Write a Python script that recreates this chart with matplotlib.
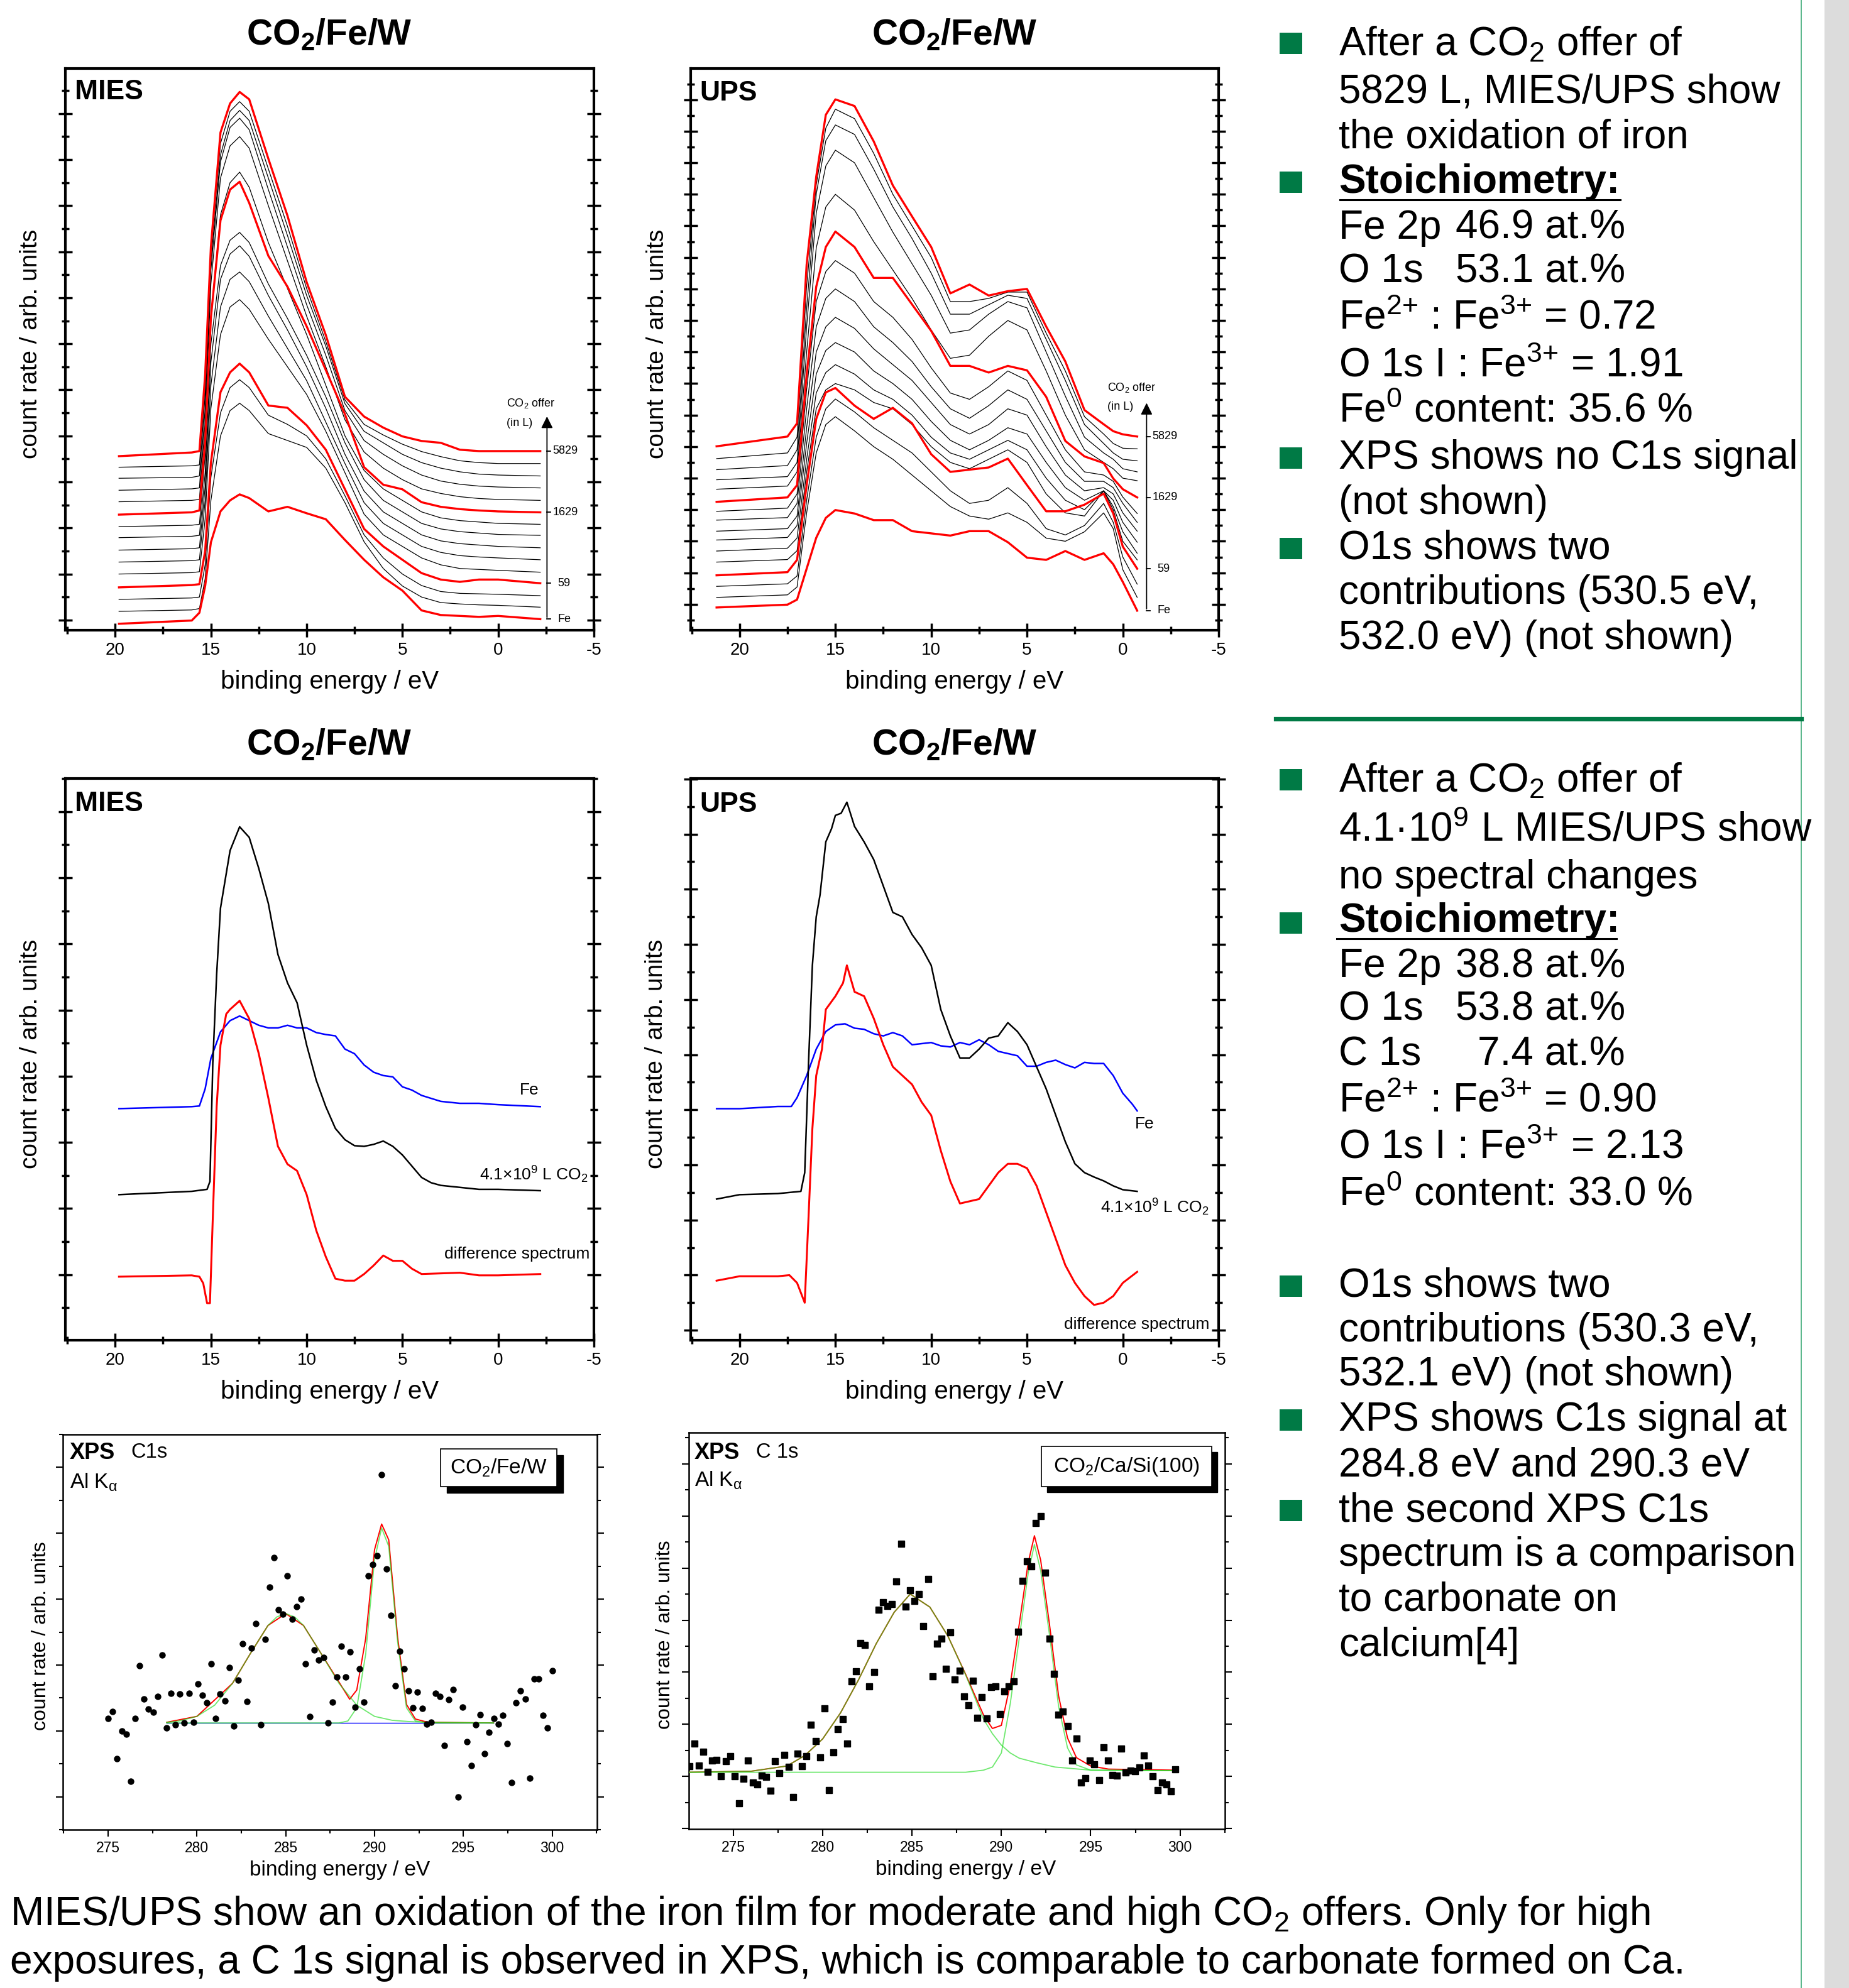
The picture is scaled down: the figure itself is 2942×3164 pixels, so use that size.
import matplotlib
matplotlib.use('Agg')
import matplotlib.pyplot as plt
from matplotlib.patches import Rectangle
from matplotlib.lines import Line2D
from matplotlib.ticker import MultipleLocator

plt.rcParams['font.family'] = ['Liberation Sans', 'DejaVu Sans']
plt.rcParams['mathtext.default'] = 'regular'
plt.rcParams['axes.unicode_minus'] = False

# MIES series (CO2 offer from Fe film up to 5829 L), common energy grid
MIES_X = [19.8, 16.0, 15.6, 15.3, 15.0, 14.5, 14.0, 13.5, 13.0, 12.0, 11.0, 10.0,
          9.0, 8.0, 7.0, 6.0, 5.0, 4.0, 3.0, 2.0, 1.0, 0.0, -2.2]
MIES_CURVES = [
    [-0.08, -0.01, 0.16, 0.74, 1.69, 2.36, 2.60, 2.73, 2.65, 2.36, 2.46, 2.32, 2.19, 1.74, 1.31, 0.93, 0.64, 0.21, 0.11, 0.09, 0.07, 0.09, 0.02],
    [0.19, 0.22, 0.25, 0.9, 2.6, 4.0, 4.55, 4.71, 4.55, 4.05, 3.9, 3.75, 3.3, 2.55, 1.7, 1.12, 0.74, 0.5, 0.38, 0.35, 0.33, 0.32, 0.28],
    [0.45, 0.48, 0.5, 1.2, 3.1, 4.5, 5.05, 5.22, 5.05, 4.45, 4.25, 4.0, 3.5, 2.7, 1.85, 1.35, 1.0, 0.75, 0.62, 0.58, 0.57, 0.56, 0.53],
    [0.71, 0.76, 0.78, 1.50, 3.42, 4.95, 5.38, 5.57, 5.38, 4.66, 4.61, 4.23, 3.70, 2.84, 1.98, 1.60, 1.31, 1.02, 0.88, 0.83, 0.88, 0.88, 0.80],
    [1.00, 1.03, 1.05, 2.2, 4.6, 6.2, 6.8, 6.96, 6.75, 6.1, 5.5, 4.9, 4.1, 3.2, 2.3, 1.85, 1.6, 1.35, 1.2, 1.12, 1.1, 1.08, 1.04],
    [1.26, 1.29, 1.31, 2.6, 5.1, 6.8, 7.4, 7.56, 7.35, 6.6, 5.9, 5.2, 4.3, 3.4, 2.55, 2.1, 1.85, 1.6, 1.47, 1.4, 1.37, 1.35, 1.31],
    [1.52, 1.55, 1.57, 2.9, 5.6, 7.4, 7.95, 8.13, 7.9, 7.05, 6.3, 5.5, 4.6, 3.6, 2.8, 2.35, 2.1, 1.85, 1.72, 1.66, 1.63, 1.6, 1.57],
    [1.79, 1.82, 1.84, 3.2, 6.0, 7.7, 8.25, 8.42, 8.2, 7.3, 6.55, 5.75, 4.85, 3.85, 3.05, 2.6, 2.35, 2.1, 1.98, 1.92, 1.89, 1.86, 1.84],
    [2.03, 2.06, 2.08, 3.6, 6.6, 8.8, 9.5, 9.73, 9.4, 8.2, 7.2, 6.2, 5.1, 4.0, 3.25, 2.85, 2.6, 2.35, 2.22, 2.16, 2.13, 2.1, 2.08],
    [2.29, 2.34, 2.38, 3.89, 6.57, 8.68, 9.35, 9.52, 9.06, 7.91, 7.24, 6.38, 5.43, 4.47, 3.32, 2.94, 2.84, 2.56, 2.46, 2.41, 2.38, 2.36, 2.34],
    [2.57, 2.6, 2.62, 4.3, 7.3, 9.6, 10.3, 10.5, 10.25, 9.0, 7.8, 6.6, 5.5, 4.35, 3.65, 3.3, 3.05, 2.85, 2.75, 2.68, 2.64, 2.62, 2.60],
    [2.82, 2.85, 2.87, 4.6, 7.6, 9.95, 10.7, 10.9, 10.65, 9.35, 8.1, 6.85, 5.75, 4.55, 3.9, 3.6, 3.35, 3.15, 3.02, 2.95, 2.91, 2.89, 2.87],
    [3.08, 3.1, 3.13, 4.9, 7.8, 10.1, 10.85, 11.07, 10.85, 9.6, 8.35, 7.05, 5.95, 4.7, 4.1, 3.85, 3.6, 3.42, 3.3, 3.22, 3.17, 3.15, 3.13],
    [3.32, 3.35, 3.37, 5.1, 8.0, 10.35, 11.05, 11.26, 11.05, 9.8, 8.55, 7.2, 6.05, 4.78, 4.25, 4.02, 3.82, 3.66, 3.55, 3.46, 3.42, 3.40, 3.40],
    [3.56, 3.64, 3.67, 5.33, 8.11, 10.59, 11.22, 11.47, 11.31, 10.02, 8.78, 7.34, 6.19, 4.85, 4.42, 4.18, 3.99, 3.89, 3.85, 3.70, 3.67, 3.67, 3.67],
]
MIES_RED = [0, 3, 9, 14]

# UPS series, common energy grid
UPS_X = [21.2, 17.5, 17.0, 16.5, 16.0, 15.5, 15.0, 14.0, 13.0, 12.0, 11.0, 10.0,
         9.0, 8.0, 7.0, 6.0, 5.0, 4.0, 3.0, 2.0, 1.0, 0.5, 0.0, -0.75]
UPS_CURVES = [
    [-0.10, -0.01, 0.15, 1.13, 2.11, 2.74, 2.99, 2.88, 2.67, 2.67, 2.32, 2.25, 2.18, 2.32, 2.32, 1.97, 1.48, 1.41, 1.69, 1.41, 1.62, 1.27, 0.71, -0.20],
    [0.22, 0.3, 0.55, 2.9, 4.8, 5.7, 5.95, 5.5, 5.0, 4.6, 4.1, 3.6, 3.1, 2.8, 2.7, 2.9, 2.6, 2.1, 2.0, 2.3, 2.9, 2.4, 1.1, 0.22],
    [0.57, 0.65, 0.9, 3.3, 5.3, 6.2, 6.51, 6.1, 5.6, 5.2, 4.8, 4.2, 3.6, 3.2, 3.3, 3.7, 3.2, 2.4, 2.2, 2.5, 3.2, 2.6, 1.5, 0.64],
    [0.92, 1.02, 1.41, 3.78, 5.88, 6.72, 6.86, 6.30, 5.88, 6.23, 5.74, 4.76, 4.20, 4.27, 4.34, 4.62, 3.78, 2.95, 2.95, 3.16, 3.51, 2.88, 1.83, 1.13],
    [1.34, 1.42, 1.7, 4.2, 6.2, 6.8, 7.0, 6.8, 6.4, 6.2, 5.7, 5.0, 4.5, 4.3, 4.6, 4.9, 4.5, 3.5, 2.9, 2.8, 3.6, 3.0, 2.0, 1.41],
    [1.69, 1.78, 2.1, 4.6, 6.7, 7.35, 7.6, 7.3, 6.8, 6.5, 6.0, 5.3, 4.8, 4.6, 4.9, 5.2, 4.9, 4.0, 3.3, 3.0, 3.6, 3.1, 2.3, 1.62],
    [2.04, 2.12, 2.5, 5.1, 7.3, 8.05, 8.3, 8.0, 7.4, 7.0, 6.5, 5.8, 5.2, 4.9, 5.2, 5.6, 5.4, 4.5, 3.7, 3.3, 3.6, 3.3, 2.6, 1.97],
    [2.32, 2.4, 2.8, 5.6, 8.0, 8.8, 9.1, 8.75, 8.1, 7.6, 7.1, 6.4, 5.7, 5.4, 5.7, 6.2, 6.0, 5.0, 4.1, 3.6, 3.7, 3.5, 2.9, 2.32],
    [2.67, 2.75, 3.2, 6.2, 8.8, 9.7, 10.0, 9.6, 8.8, 8.3, 7.7, 6.9, 6.2, 5.9, 6.3, 6.8, 6.5, 5.5, 4.5, 3.9, 3.9, 3.7, 3.2, 2.6],
    [2.95, 3.05, 3.5, 6.8, 9.6, 10.55, 10.9, 10.5, 9.6, 9.1, 8.4, 7.5, 6.7, 6.5, 6.9, 7.4, 7.1, 6.0, 4.9, 4.2, 4.1, 3.9, 3.4, 2.88],
    [3.25, 3.39, 3.78, 7.28, 10.07, 11.33, 11.82, 11.33, 10.35, 10.35, 9.51, 8.67, 7.56, 7.56, 7.35, 7.56, 7.42, 6.58, 5.18, 4.69, 4.48, 3.99, 3.65, 3.39],
    [3.65, 3.75, 4.2, 8.0, 11.3, 12.6, 13.0, 12.5, 11.5, 10.6, 9.7, 8.7, 7.8, 7.9, 8.5, 9.0, 8.7, 7.4, 6.0, 4.9, 4.5, 4.3, 4.0, 3.92],
    [3.95, 4.05, 4.5, 8.8, 12.4, 13.9, 14.4, 14.0, 12.9, 11.8, 10.8, 9.8, 8.6, 8.7, 9.2, 9.6, 9.4, 8.0, 6.6, 5.3, 4.8, 4.6, 4.3, 4.2],
    [4.27, 4.4, 4.9, 9.4, 13.0, 14.7, 15.2, 14.9, 13.8, 12.6, 11.6, 10.5, 9.2, 9.2, 9.5, 9.8, 9.7, 8.4, 7.1, 5.7, 5.1, 4.8, 4.6, 4.55],
    [4.62, 4.8, 5.3, 10.1, 13.3, 15.1, 15.7, 15.4, 14.3, 13.0, 12.0, 11.0, 9.6, 9.6, 9.7, 9.9, 9.9, 8.6, 7.4, 5.95, 5.4, 5.1, 4.95, 4.93],
    [5.01, 5.32, 5.74, 10.77, 13.56, 15.52, 16.01, 15.80, 14.68, 13.28, 12.30, 11.33, 9.86, 10.14, 9.79, 9.93, 10.0, 8.81, 7.70, 6.16, 5.71, 5.49, 5.39, 5.32],
]
UPS_RED = [0, 3, 10, 15]
OFFER_LABELS = ['Fe', '59', '1629', '5829']

# MIES after 4.1e9 L CO2
MIES_FE_X = [19.8, 16.0, 15.6, 15.3, 15.0, 14.5, 14.0, 13.5, 13.0, 12.5, 12.0, 11.5, 11.0, 10.5, 10.0, 9.5,
             9.0, 8.5, 8.0, 7.5, 7.0, 6.5, 6.0, 5.5, 5.0, 4.5, 4.0, 3.0, 2.0, 1.0, 0.0, -2.2]
MIES_FE_Y = [2.51, 2.54, 2.55, 2.81, 3.27, 3.67, 3.84, 3.91, 3.84, 3.77, 3.73, 3.73, 3.77, 3.73, 3.73, 3.66,
             3.63, 3.61, 3.41, 3.34, 3.17, 3.06, 3.01, 2.99, 2.84, 2.79, 2.71, 2.62, 2.59, 2.59, 2.57, 2.54]
MIES_CO2_X = [19.8, 16.0, 15.2, 15.05, 14.9, 14.7, 14.5, 14.0, 13.5, 13.0, 12.5, 12.0, 11.5, 11.0, 10.5, 10.0, 9.5,
              9.0, 8.5, 8.0, 7.5, 7.0, 6.5, 6.0, 5.5, 5.0, 4.5, 4.0, 3.5, 3.0, 2.0, 1.0, 0.0, -2.2]
MIES_CO2_Y = [1.21, 1.26, 1.29, 1.41, 3.21, 4.54, 5.54, 6.41, 6.77, 6.61, 6.14, 5.61, 4.84, 4.41, 4.11, 3.47, 2.94,
              2.54, 2.21, 2.04, 1.95, 1.94, 1.97, 2.02, 1.94, 1.81, 1.64, 1.47, 1.39, 1.35, 1.32, 1.29, 1.29, 1.27]
MIES_DIFF_X = [19.8, 16.0, 15.6, 15.4, 15.2, 15.05, 14.9, 14.7, 14.5, 14.2, 14.0, 13.5, 13.0, 12.5, 12.0, 11.5, 11.0, 10.5,
               10.0, 9.5, 9.0, 8.5, 8.0, 7.5, 7.0, 6.5, 6.0, 5.5, 5.0, 4.5, 4.0, 3.0, 2.0, 1.0, 0.0, -2.2]
MIES_DIFF_Y = [-0.03, -0.01, -0.03, -0.13, -0.43, -0.43, 0.87, 2.54, 3.47, 3.94, 4.01, 4.14, 3.87, 3.34, 2.67, 1.94, 1.67, 1.57,
               1.21, 0.67, 0.27, -0.06, -0.09, -0.09, 0.01, 0.14, 0.29, 0.21, 0.21, 0.09, 0.01, 0.02, 0.03, -0.01, -0.01, 0.01]

# UPS after 4.1e9 L CO2
UPS_FE_X = [21.2, 20.0, 18.0, 17.3, 17.0, 16.5, 16.0, 15.5, 15.0, 14.5, 14.0, 13.5, 13.0, 12.5, 12.0, 11.5, 11.0, 10.5, 10.0, 9.5,
            9.0, 8.5, 8.0, 7.5, 7.0, 6.5, 6.0, 5.5, 5.0, 4.5, 4.0, 3.5, 3.0, 2.5, 2.0, 1.5, 1.0, 0.5, 0.0, -0.5, -0.75]
UPS_FE_Y = [3.02, 3.02, 3.06, 3.06, 3.22, 3.62, 4.10, 4.42, 4.54, 4.56, 4.48, 4.46, 4.38, 4.34, 4.40, 4.34, 4.18, 4.20, 4.22, 4.16,
            4.14, 4.22, 4.18, 4.27, 4.18, 4.06, 4.02, 3.98, 3.79, 3.79, 3.86, 3.90, 3.82, 3.76, 3.86, 3.84, 3.84, 3.62, 3.30, 3.10, 2.98]
UPS_CO2_X = [21.2, 20.0, 18.0, 16.8, 16.6, 16.4, 16.2, 16.0, 15.8, 15.5, 15.2, 15.0, 14.7, 14.4, 14.0, 13.5, 13.0, 12.5, 12.0, 11.5,
             11.0, 10.5, 10.0, 9.5, 9.0, 8.5, 8.0, 7.5, 7.0, 6.5, 6.0, 5.5, 5.0, 4.5, 4.0, 3.5, 3.0, 2.5, 2.0, 1.5, 1.0, 0.5, 0.0, -0.75]
UPS_CO2_Y = [1.38, 1.46, 1.48, 1.52, 1.86, 3.86, 5.62, 6.50, 6.90, 7.86, 8.10, 8.34, 8.38, 8.58, 8.14, 7.86, 7.54, 7.06, 6.58, 6.50,
             6.18, 5.94, 5.62, 4.82, 4.34, 3.94, 3.94, 4.10, 4.30, 4.34, 4.58, 4.42, 4.18, 3.78, 3.38, 2.90, 2.42, 2.02, 1.86, 1.78, 1.71, 1.62, 1.55, 1.52]
UPS_DIFF_X = [21.2, 20.0, 18.0, 17.4, 17.0, 16.6, 16.4, 16.2, 16.0, 15.7, 15.5, 15.0, 14.6, 14.4, 14.0, 13.5, 13.0, 12.5, 12.0, 11.5,
              11.0, 10.5, 10.0, 9.5, 9.0, 8.5, 8.0, 7.5, 7.0, 6.5, 6.0, 5.5, 5.0, 4.5, 4.0, 3.5, 3.0, 2.5, 2.0, 1.5, 1.0, 0.5, 0.0, -0.75]
UPS_DIFF_Y = [-0.10, -0.02, -0.02, 0.0, -0.14, -0.50, 1.06, 2.66, 3.62, 4.10, 4.82, 5.06, 5.30, 5.62, 5.14, 5.06, 4.66, 4.18, 3.78, 3.62,
              3.46, 3.14, 2.90, 2.26, 1.70, 1.30, 1.34, 1.38, 1.62, 1.86, 2.02, 2.02, 1.94, 1.62, 1.14, 0.66, 0.18, -0.14, -0.38, -0.54,
              -0.50, -0.38, -0.14, 0.06]

# XPS C1s, CO2/Fe/W
XPS1_X = [275.00, 275.25, 275.51, 275.76, 276.01, 276.26, 276.52, 276.77, 277.02, 277.27,
          277.53, 277.78, 278.03, 278.28, 278.54, 278.79, 279.04, 279.29, 279.55, 279.80,
          280.05, 280.30, 280.56, 280.81, 281.06, 281.31, 281.57, 281.82, 282.07, 282.32,
          282.58, 282.83, 283.08, 283.33, 283.59, 283.84, 284.09, 284.34, 284.60, 284.85,
          285.10, 285.35, 285.61, 285.86, 286.11, 286.36, 286.62, 286.87, 287.12, 287.37,
          287.63, 287.88, 288.13, 288.38, 288.64, 288.89, 289.14, 289.39, 289.65, 289.90,
          290.15, 290.40, 290.66, 290.91, 291.16, 291.41, 291.67, 291.92, 292.17, 292.42,
          292.68, 292.93, 293.18, 293.43, 293.69, 293.94, 294.19, 294.44, 294.70, 294.95,
          295.20, 295.45, 295.71, 295.96, 296.21, 296.46, 296.72, 296.97, 297.22, 297.47,
          297.73, 297.98, 298.23, 298.48, 298.74, 298.99, 299.24, 299.49, 299.75, 300.00]
XPS1_Y = [0.19, 0.29, -0.42, 0.0, -0.05, -0.77, 0.19, 0.99, 0.48, 0.33,
          0.28, 0.52, 1.15, 0.05, 0.57, 0.09, 0.56, 0.12, 0.57, 0.13,
          0.71, 0.54, 0.43, 1.02, 0.19, 0.56, 0.46, 0.96, 0.07, 0.77,
          1.32, 0.45, 1.26, 1.63, 0.09, 1.39, 2.18, 2.63, 1.84, 1.77,
          2.35, 1.70, 1.89, 2.00, 1.02, 0.22, 1.23, 1.08, 1.11, 0.12,
          0.44, 0.82, 1.29, 0.82, 1.20, 0.36, 0.94, 0.44, 2.35, 2.53,
          2.66, 3.89, 2.46, 1.75, 0.68, 1.21, 0.94, 0.61, 0.35, 0.59,
          0.34, 0.10, 0.13, 0.57, 0.52, -0.22, 0.47, 0.63, -1.0, 0.36,
          -0.16, -0.53, 0.09, 0.25, -0.35, -0.02, 0.19, 0.10, 0.24, -0.19,
          -0.78, 0.43, 0.61, 0.48, -0.72, 0.79, 0.79, 0.24, 0.05, 0.91]
XPS1_BG_X = [278.3, 296.7]
XPS1_BG_Y = [0.12, 0.12]
XPS1_BROAD_X = [278.3, 279, 280, 281, 282, 283, 284, 284.5, 285, 285.5, 286, 287, 288, 289, 290, 291, 292, 293, 296.7]
XPS1_BROAD_Y = [0.13, 0.15, 0.22, 0.39, 0.72, 1.17, 1.60, 1.73, 1.78, 1.73, 1.60, 1.17, 0.72, 0.39, 0.22, 0.16, 0.14, 0.13, 0.12]
XPS1_NARROW_X = [278.3, 288.0, 288.5, 289.0, 289.5, 290.0, 290.4, 290.8, 291.3, 291.8, 292.3, 293.0, 296.7]
XPS1_NARROW_Y = [0.12, 0.12, 0.15, 0.35, 1.16, 2.60, 3.08, 2.80, 1.35, 0.35, 0.15, 0.12, 0.12]
XPS1_ENV_X = [278.3, 280, 282, 283, 284, 285, 286, 287, 288, 288.6, 289.0, 289.5, 290.0, 290.4, 290.8, 291.3, 291.8, 292.3, 293, 296.7]
XPS1_ENV_Y = [0.13, 0.22, 0.72, 1.17, 1.60, 1.78, 1.60, 1.17, 0.74, 0.48, 0.62, 1.40, 2.75, 3.14, 2.90, 1.42, 0.40, 0.18, 0.13, 0.12]

# XPS C 1s, CO2/Ca/Si(100)
XPS2_X = [272.56, 272.81, 273.06, 273.31, 273.57, 273.82, 274.07, 274.32, 274.57, 274.82,
          275.08, 275.33, 275.58, 275.83, 276.08, 276.33, 276.59, 276.84, 277.09, 277.34,
          277.59, 277.84, 278.10, 278.35, 278.60, 278.85, 279.10, 279.35, 279.60, 279.86,
          280.11, 280.36, 280.61, 280.86, 281.11, 281.37, 281.62, 281.87, 282.12, 282.37,
          282.62, 282.88, 283.13, 283.38, 283.63, 283.88, 284.13, 284.39, 284.64, 284.89,
          285.14, 285.39, 285.64, 285.90, 286.15, 286.40, 286.65, 286.90, 287.15, 287.40,
          287.66, 287.91, 288.16, 288.41, 288.66, 288.91, 289.17, 289.42, 289.67, 289.92,
          290.17, 290.42, 290.68, 290.93, 291.18, 291.43, 291.68, 291.93, 292.19, 292.44,
          292.69, 292.94, 293.19, 293.44, 293.70, 293.95, 294.20, 294.45, 294.70, 294.95,
          295.20, 295.46, 295.71, 295.96, 296.21, 296.46, 296.72, 296.97, 297.22, 297.47,
          297.72, 297.97, 298.23, 298.48, 298.73, 298.98, 299.23, 299.48, 299.73]
XPS2_Y = [0.20, 0.63, 0.21, 0.47, 0.09, 0.30, 0.32, 0.0, 0.29, 0.39,
          0.0, -0.52, -0.05, 0.31, -0.12, -0.15, 0.01, -0.01, -0.28, 0.29,
          0.06, 0.41, 0.18, -0.39, 0.44, 0.20, 0.39, 0.99, 0.68, 0.37,
          1.30, -0.26, 0.46, 0.91, 1.10, 0.63, 1.83, 2.02, 2.56, 2.52,
          1.73, 2.01, 3.20, 3.34, 3.27, 3.31, 3.74, 4.47, 3.26, 3.57,
          3.37, 3.50, 2.88, 3.79, 1.92, 2.55, 2.65, 2.07, 2.77, 1.86,
          2.03, 1.53, 1.37, 1.84, 1.13, 1.52, 1.11, 1.71, 1.73, 1.20,
          1.63, 1.73, 1.83, 2.78, 3.75, 4.13, 4.03, 4.86, 5.00, 3.91,
          2.65, 1.97, 1.19, 1.24, 0.97, 0.30, 0.73, -0.12, -0.03, 0.30,
          0.23, -0.07, 0.56, 0.30, 0.03, 0.02, 0.53, 0.07, 0.11, 0.10,
          0.17, 0.40, 0.21, 0.0, -0.26, -0.12, -0.15, -0.29, 0.14]
XPS2_BROAD_X = [272.5, 276, 278, 279, 280, 281, 282, 283, 284, 284.9, 286, 287, 288, 289, 289.5, 290, 290.5, 291, 292, 293, 295, 299.7]
XPS2_BROAD_Y = [0.08, 0.10, 0.20, 0.40, 0.72, 1.22, 1.85, 2.55, 3.15, 3.50, 3.25, 2.70, 1.95, 1.10, 0.82, 0.60, 0.45, 0.35, 0.26, 0.18, 0.12, 0.11]
XPS2_NARROW_X = [272.5, 288, 289, 289.5, 290, 290.5, 291, 291.5, 291.85, 292.2, 292.7, 293.2, 293.7, 294.2, 295, 299.7]
XPS2_NARROW_Y = [0.08, 0.08, 0.12, 0.18, 0.45, 1.40, 2.65, 3.90, 4.45, 3.95, 2.70, 1.35, 0.55, 0.22, 0.12, 0.11]
XPS2_ENV_X = [272.5, 276, 278, 279, 280, 281, 282, 283, 284, 284.9, 286, 287, 288, 289, 289.5, 290, 290.5, 291, 291.5, 291.85,
              292.2, 292.7, 293.2, 293.7, 294.2, 295, 296, 299.7]
XPS2_ENV_Y = [0.08, 0.10, 0.20, 0.40, 0.72, 1.22, 1.85, 2.55, 3.15, 3.50, 3.25, 2.70, 1.96, 1.18, 0.92, 0.98, 1.77, 2.92, 4.10, 4.62,
              4.15, 2.90, 1.55, 0.74, 0.36, 0.20, 0.14, 0.12]

# ---------------- figure ----------------
W, H = 2942, 3164
fig = plt.figure(figsize=(W / 100, H / 100), dpi=100)
fig.patch.set_facecolor('white')

GREEN = '#007A45'


def fx(x):
    return x / W


def fy(y):
    return 1 - y / H


def px_axes(x0, y0, x1, y1):
    return fig.add_axes([fx(x0), fy(y1), (x1 - x0) / W, (y1 - y0) / H])


def spectra_axes(box, xlim, ylim, ylab_x):
    ax = px_axes(*box)
    ax.set_xlim(*xlim)
    ax.set_ylim(*ylim)
    ax.xaxis.set_major_locator(MultipleLocator(5))
    ax.xaxis.set_minor_locator(MultipleLocator(2.5))
    ax.yaxis.set_major_locator(MultipleLocator(1))
    ax.yaxis.set_minor_locator(MultipleLocator(0.5))
    ax.tick_params(which='both', direction='inout', width=2.5, top=False, right=True,
                   labelleft=False, labelsize=20, pad=6)
    ax.tick_params(which='major', length=16)
    ax.tick_params(which='minor', length=9)
    for sp in ax.spines.values():
        sp.set_linewidth(3)
    ax.set_xlabel('binding energy / eV', fontsize=29)
    ax.set_ylabel('count rate / arb. units', fontsize=28)
    ax.xaxis.set_label_coords(0.5, -0.07)
    ax.yaxis.set_label_coords(ylab_x, 0.51)
    return ax


def xps_axes(box, xlim, ylim, ylab_x, xlab_x):
    ax = px_axes(*box)
    ax.set_xlim(*xlim)
    ax.set_ylim(*ylim)
    ax.xaxis.set_major_locator(MultipleLocator(5))
    ax.xaxis.set_minor_locator(MultipleLocator(2.5))
    ax.yaxis.set_major_locator(MultipleLocator(1))
    ax.yaxis.set_minor_locator(MultipleLocator(0.5))
    ax.tick_params(which='both', direction='out', width=1.5, top=False, right=True,
                   labelleft=False, labelsize=16.5, pad=5)
    ax.tick_params(which='major', length=8)
    ax.tick_params(which='minor', length=4.5)
    for sp in ax.spines.values():
        sp.set_linewidth(1.8)
    ax.set_xlabel('binding energy / eV', fontsize=24)
    ax.set_ylabel('count rate / arb. units', fontsize=23)
    ax.xaxis.set_label_coords(xlab_x, -0.078)
    ax.yaxis.set_label_coords(ylab_x, 0.49)
    return ax


def offer_scale(ax, xline, curves, red_idx, top, lab_x, head_x, head_y):
    ax.annotate('', xy=(xline, top), xytext=(xline, curves[0][-1]),
                arrowprops=dict(arrowstyle='-|>', color='black', lw=1.3, mutation_scale=28))
    for idx, lab in zip(red_idx, OFFER_LABELS):
        yv = curves[idx][-1]
        ax.plot([xline, xline - 0.17], [yv, yv], color='black', lw=1.3)
        ax.text(lab_x - (0.25 if len(lab) <= 2 else 0), yv, lab, ha='left', va='center', fontsize=13)
    ax.text(head_x, head_y[0], 'CO$_2$ offer', ha='left', va='center', fontsize=13)
    ax.text(head_x, head_y[1], '(in L)', ha='left', va='center', fontsize=13)


# ---- top row: CO2 offer series ----
axA = spectra_axes((104, 109, 945, 1003), (22.6, -5.0), (-0.22, 11.98), -0.044)
for i, yv in enumerate(MIES_CURVES):
    red = i in MIES_RED
    axA.plot(MIES_X, yv, color='red' if red else 'black', lw=2.4 if red else 0.9, zorder=3 if red else 2)
offer_scale(axA, -2.55, MIES_CURVES, MIES_RED, 4.46, -2.85, -0.45, (4.71, 4.28))

axB = spectra_axes((1099, 109, 1939, 1003), (22.55, -5.0), (-0.82, 16.99), -0.042)
for i, yv in enumerate(UPS_CURVES):
    red = i in UPS_RED
    axB.plot(UPS_X, yv, color='red' if red else 'black', lw=2.4 if red else 0.9, zorder=3 if red else 2)
offer_scale(axB, -1.24, UPS_CURVES, UPS_RED, 6.44, -1.55, 0.8, (6.86, 6.27))

# ---- middle row: 4.1e9 L CO2 ----
axC = spectra_axes((104, 1239, 945, 2133), (22.6, -5.0), (-0.99, 7.5), -0.044)
axC.plot(MIES_FE_X, MIES_FE_Y, color='blue', lw=1.8)
axC.plot(MIES_CO2_X, MIES_CO2_Y, color='black', lw=1.8)
axC.plot(MIES_DIFF_X, MIES_DIFF_Y, color='red', lw=2.2)
axC.text(-2.13, 2.79, 'Fe', ha='right', va='center', fontsize=19)
axC.text(-4.72, 1.51, '4.1×10$^9$ L CO$_2$', ha='right', va='center', fontsize=19)
axC.text(-4.79, 0.31, 'difference spectrum', ha='right', va='center', fontsize=19)

axD = spectra_axes((1099, 1239, 1939, 2133), (22.55, -5.0), (-1.18, 9.01), -0.0435)
axD.plot(UPS_FE_X, UPS_FE_Y, color='blue', lw=1.8)
axD.plot(UPS_CO2_X, UPS_CO2_Y, color='black', lw=1.8)
axD.plot(UPS_DIFF_X, UPS_DIFF_Y, color='red', lw=2.2)
axD.text(-0.62, 2.74, 'Fe', ha='left', va='center', fontsize=19)
axD.text(-4.52, 1.23, '4.1×10$^9$ L CO$_2$', ha='right', va='center', fontsize=19)
axD.text(-4.52, -0.89, 'difference spectrum', ha='right', va='center', fontsize=19)

# titles and panel tags
for cx, cy in [(524, 56), (1519, 56), (524, 1186), (1519, 1186)]:
    fig.text(fx(cx), fy(cy), 'CO$_2$/Fe/W', ha='center', va='center', fontsize=41, fontweight='bold')
for tx, ty, tag in [(119, 146, 'MIES'), (1113, 149, 'UPS'), (119, 1279, 'MIES'), (1113, 1281, 'UPS')]:
    fig.text(fx(tx), fy(ty), tag, ha='left', va='center', fontsize=32, fontweight='bold')

# ---- bottom row: XPS ----
axE = xps_axes((100, 2283, 950, 2912), (272.45, 302.53), (-1.50, 4.50), -0.0235, 0.518)
axE.plot(XPS1_BG_X, XPS1_BG_Y, color='blue', lw=1.0, zorder=2)
axE.plot(XPS1_ENV_X, XPS1_ENV_Y, color='red', lw=1.4, zorder=3)
axE.plot(XPS1_BROAD_X, XPS1_BROAD_Y, color='#22DD22', lw=1.3, alpha=0.65, zorder=4)
axE.plot(XPS1_NARROW_X, XPS1_NARROW_Y, color='#22DD22', lw=1.3, alpha=0.65, zorder=4)
axE.plot(XPS1_X, XPS1_Y, 'o', color='black', ms=6.5, zorder=5)

axF = xps_axes((1096, 2280, 1949, 2911), (272.51, 302.51), (-1.01, 6.60), -0.027, 0.516)
axF.plot(XPS2_ENV_X, XPS2_ENV_Y, color='red', lw=1.4, zorder=3)
axF.plot(XPS2_BROAD_X, XPS2_BROAD_Y, color='#22DD22', lw=1.3, alpha=0.65, zorder=4)
axF.plot(XPS2_NARROW_X, XPS2_NARROW_Y, color='#22DD22', lw=1.3, alpha=0.65, zorder=4)
axF.plot(XPS2_X, XPS2_Y, 's', color='black', ms=6.5, zorder=5)

for (xx, ct, cx), ly in zip([(111, 'C1s', 208), (1105, 'C 1s', 1203)], [2359, 2356]):
    fig.text(fx(xx), fy(2312), 'XPS', ha='left', va='center', fontsize=26, fontweight='bold')
    fig.text(fx(cx), fy(2312), ct, ha='left', va='center', fontsize=23.5)
    fig.text(fx(xx), fy(ly), 'Al K$_{\\alpha}$', ha='left', va='center', fontsize=24)

for (x0, y0, x1, y1, sh), lab in zip([(701, 2306, 886, 2366, 10), (1657, 2302, 1928, 2366, 9)],
                                     ['CO$_2$/Fe/W', 'CO$_2$/Ca/Si(100)']):
    fig.add_artist(Rectangle((fx(x0 + sh), fy(y1 + sh)), (x1 - x0) / W, (y1 - y0) / H,
                             transform=fig.transFigure, facecolor='black', edgecolor='black', zorder=6))
    fig.add_artist(Rectangle((fx(x0), fy(y1)), (x1 - x0) / W, (y1 - y0) / H,
                             transform=fig.transFigure, facecolor='white', edgecolor='black', lw=1.2, zorder=7))
    fig.text(fx((x0 + x1) / 2), fy((y0 + y1) / 2), lab, ha='center', va='center', fontsize=24, zorder=8)

# ---- right text column ----
fig.add_artist(Rectangle((fx(2903), 0), (W - 2903) / W, 1, transform=fig.transFigure,
                         facecolor='#DCDCDC', edgecolor='none', zorder=0))
fig.add_artist(Line2D([fx(2866), fx(2866)], [0, 1], transform=fig.transFigure, color='#3DAA78', lw=1.2))
fig.add_artist(Line2D([fx(2030), fx(2866)], [fy(1143.5), fy(1143.5)], transform=fig.transFigure,
                      color=GREEN, lw=5.2))

TXT = 46
block1 = [(71, 'After a CO$_2$ offer of'), (147, '5829 L, MIES/UPS show'), (219, 'the oxidation of iron'),
          (506, 'Fe$^{2{+}}$ : Fe$^{3{+}}$ = 0.72'), (582, 'O 1s I : Fe$^{3{+}}$ = 1.91'),
          (655, 'Fe$^0$ content: 35.6 %'), (729, 'XPS shows no C1s signal'), (801, '(not shown)'),
          (873, 'O1s shows two'), (944, 'contributions (530.5 eV,'), (1016, '532.0 eV) (not shown)')]
block2 = [(1243, 'After a CO$_2$ offer of'), (1322, '4.1·10$^9$ L MIES/UPS show'), (1397, 'no spectral changes'),
          (1753, 'Fe$^{2{+}}$ : Fe$^{3{+}}$ = 0.90'), (1827, 'O 1s I : Fe$^{3{+}}$ = 2.13'),
          (1901, 'Fe$^0$ content: 33.0 %'), (2047, 'O1s shows two'), (2118, 'contributions (530.3 eV,'),
          (2188, '532.1 eV) (not shown)'), (2260, 'XPS shows C1s signal at'), (2332, '284.8 eV and 290.3 eV'),
          (2404, 'the second XPS C1s'), (2475, 'spectrum is a comparison'), (2547, 'to carbonate on'),
          (2619, 'calcium[4]')]
for yy, s in block1 + block2:
    fig.text(fx(2130), fy(yy), s, ha='left', va='center', fontsize=TXT)

stoich = [(363, 'Fe 2p', '46.9 at.%'), (433, 'O 1s', '53.1 at.%'),
          (1538, 'Fe 2p', '38.8 at.%'), (1607, 'O 1s', '53.8 at.%'), (1679, 'C 1s', '7.4 at.%')]
for yy, a, b in stoich:
    fig.text(fx(2130), fy(yy), a, ha='left', va='center', fontsize=TXT)
    fig.text(fx(2586), fy(yy), b, ha='right', va='center', fontsize=TXT)

for yy, (u0, u1) in [(290, (2132, 2578)), (1466, (2127, 2572))]:
    fig.text(fx(2130), fy(yy), 'Stoichiometry:', ha='left', va='center', fontsize=TXT, fontweight='bold')
    fig.add_artist(Line2D([fx(u0), fx(u1)], [fy(yy + 28), fy(yy + 28)], transform=fig.transFigure,
                          color='black', lw=2.2))

for yy in [69, 290, 729, 873, 1241, 1469, 2047, 2260, 2404]:
    fig.add_artist(Rectangle((fx(2036), fy(yy + 17)), 36 / W, 34 / H, transform=fig.transFigure,
                             facecolor=GREEN, edgecolor='none'))

# ---- caption ----
fig.text(fx(16), fy(3047), 'MIES/UPS show an oxidation of the iron film for moderate and high CO$_2$ offers. Only for high',
         ha='left', va='center', fontsize=TXT)
fig.text(fx(16), fy(3124), 'exposures, a C 1s signal is observed in XPS, which is comparable to carbonate formed on Ca.',
         ha='left', va='center', fontsize=TXT)

fig.savefig('out.png', dpi=100, facecolor='white')
